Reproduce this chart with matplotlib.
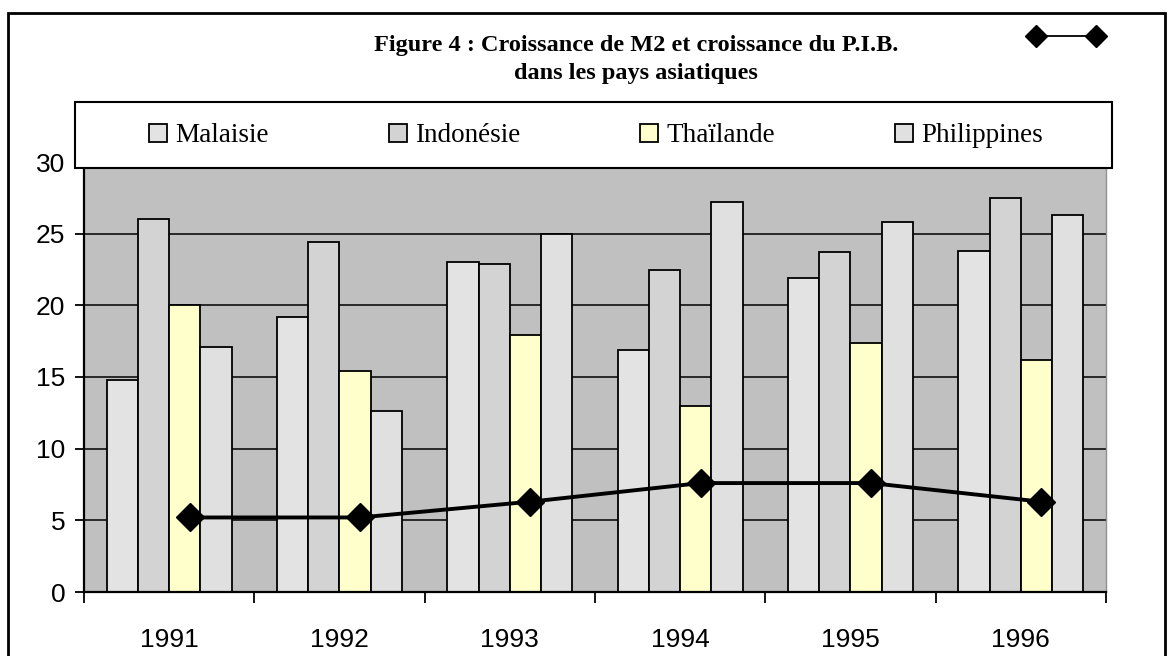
import matplotlib
matplotlib.use("Agg")
import matplotlib.pyplot as plt
from matplotlib.patches import Rectangle
from matplotlib.lines import Line2D
import numpy as np

# donnees
annees = ["1991", "1992", "1993", "1994", "1995", "1996"]
pays = ["Malaisie", "Indonésie", "Thaïlande", "Philippines"]
malaisie = [14.8, 19.2, 23.0, 16.9, 21.9, 23.8]
indonesie = [26.0, 24.4, 22.9, 22.5, 23.7, 27.5]
thailande = [20.0, 15.4, 17.9, 13.0, 17.4, 16.2]
philippines = [17.1, 12.6, 25.0, 27.2, 25.8, 26.3]
pib = [5.2, 5.2, 6.3, 7.6, 7.6, 6.3]

couleurs = ["#E3E3E3", "#D3D3D3", "#FFFFCC", "#E0E0E0"]
W, H = 1172, 656

fig = plt.figure(figsize=(W / 100, H / 100), dpi=100)
ax = fig.add_axes([84 / W, 1 - 592 / H, (1106 - 84) / W, (592 - 162) / H])
ax.set_facecolor("#C0C0C0")

x = np.arange(len(annees))
largeur = 0.183
series = [malaisie, indonesie, thailande, philippines]
barres = []
for k, (vals, c) in enumerate(zip(series, couleurs)):
    b = ax.bar(x + (k - 1.5) * largeur, vals, width=largeur, color=c,
               edgecolor="black", linewidth=1.3, zorder=2, label=pays[k])
    barres.append(b)

# courbe du PIB
ax.plot(x + 0.12, pib, color="black", lw=2.8, marker="D", markersize=14,
        zorder=3, clip_on=False)

ax.set_xlim(-0.5, 5.5)
ax.set_ylim(0, 30)
ax.set_yticks(range(0, 31, 5))
ax.yaxis.grid(True, color="black", lw=1.1)
ax.set_axisbelow(True)

ax.set_xticks(np.arange(-0.5, 6, 1))
ax.set_xticklabels([])
ax.set_xticks(x, minor=True)
ax.set_xticklabels(annees, minor=True)
ax.tick_params(axis="x", which="major", length=8, width=1.3, direction="out")
ax.tick_params(axis="x", which="minor", length=0, pad=26)
ax.tick_params(axis="y", length=6.5, width=1.3, pad=7)
for lab in ax.get_xticklabels(minor=True) + ax.get_yticklabels():
    lab.set_fontfamily("Liberation Sans")
    lab.set_fontsize(19)

for s in ["left", "bottom"]:
    ax.spines[s].set_linewidth(1.6)
ax.spines["top"].set_visible(False)
ax.spines["right"].set_color("#909090")
ax.spines["right"].set_linewidth(1.0)

# cadre exterieur
fig.patches.append(Rectangle((8 / W, -0.05), (1165 - 8) / W, 1.05 - 12.7 / H,
                             transform=fig.transFigure, fill=False,
                             edgecolor="black", lw=2, zorder=1))

# titre
serif = "Liberation Serif"
fig.text(636 / W, 1 - 51 / H, "Figure 4 : Croissance de M2 et croissance du P.I.B.",
         ha="center", va="baseline", fontsize=17.5, fontweight="bold", family=serif)
fig.text(636 / W, 1 - 78.5 / H, "dans les pays asiatiques",
         ha="center", va="baseline", fontsize=17.5, fontweight="bold", family=serif)

# boite de legende
fig.patches.append(Rectangle((74.7 / W, 1 - 168.3 / H), (1111.7 - 74.7) / W,
                             (168.3 - 102.3) / H, transform=fig.transFigure,
                             facecolor="white", edgecolor="black", lw=1.5, zorder=5))
leg = fig.legend(handles=barres, labels=pays, ncol=4, loc="center",
                 bbox_to_anchor=(596 / W, 1 - 136 / H), frameon=False,
                 prop={"family": serif, "size": 19.5}, handlelength=0.65,
                 handleheight=0.65, handletextpad=0.3, columnspacing=4.45)
leg.set_zorder(6)

# legende de la courbe (sans libelle)
proxy = Line2D([], [], color="black", lw=1.3, marker="D", markersize=11)
leg2 = fig.legend(handles=[proxy], labels=[""], loc="center", numpoints=2,
                  bbox_to_anchor=(1066 / W, 1 - 38 / H), frameon=False,
                  handlelength=2.9, handletextpad=0, borderpad=0,
                  prop={"size": 19})
leg2.set_zorder(6)

fig.savefig("out.png", dpi=100)
